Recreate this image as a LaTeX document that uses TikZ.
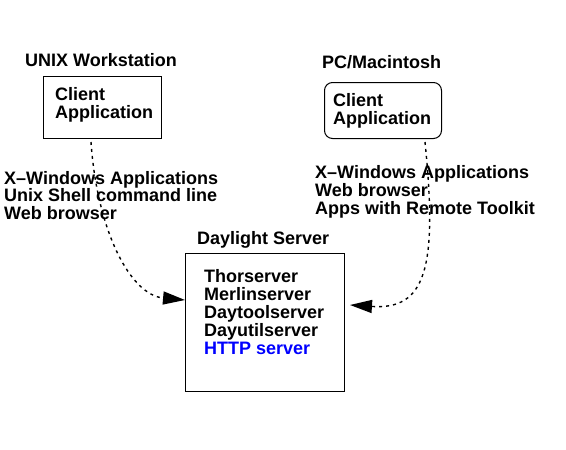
\documentclass[tikz,border=0pt]{standalone}
\usepackage{fontspec}
\setmainfont{Liberation Sans}
\usetikzlibrary{arrows.meta,calc}
\begin{document}
\begin{tikzpicture}[x=1pt,y=-1pt,
  lbl/.style={anchor=base west,inner sep=0pt,font=\fontsize{18}{18}\selectfont\bfseries},
  box/.style={draw,line width=1pt,inner sep=0pt,anchor=north west},
  conn/.style={line width=1.4pt,dash pattern=on 3pt off 4pt,-{Triangle[length=22pt,width=13pt]}}]
\useasboundingbox (0,0) rectangle (566,450);
% left
\node[lbl] (unixlbl) at (25,66) {UNIX Workstation};
\node[box,minimum width=118pt,minimum height=62pt] (unixbox) at (43,76) {};
\node[lbl] (unixc1) at (55,100) {Client};
\node[lbl] (unixc2) at (55,118) {Application};
\node[lbl] (l1) at (4,184) {X{\char"2013}Windows Applications};
\node[lbl] (l2) at (4,201) {Unix Shell command line};
\node[lbl] (l3) at (4,219) {Web browser};
% right
\node[lbl] (pclbl) at (322,68) {PC/Macintosh};
\node[box,rounded corners=8pt,minimum width=117pt,minimum height=56pt] (pcbox) at (324,82) {};
\node[lbl] (pcc1) at (333,106) {Client};
\node[lbl] (pcc2) at (333,124) {Application};
\node[lbl] (r1) at (315,178) {X{\char"2013}Windows Applications};
\node[lbl] (r2) at (315,196) {Web browser};
\node[lbl] (r3) at (315,214) {Apps with Remote Toolkit};
% server
\node[lbl] (srvlbl) at (197,244) {Daylight Server};
\node[box,minimum width=159pt,minimum height=138pt] (srvbox) at (185,253) {};
\node[lbl] (s1) at (204,282) {Thorserver};
\node[lbl] (s2) at (204,300) {Merlinserver};
\node[lbl] (s3) at (204,318) {Daytoolserver};
\node[lbl] (s4) at (204,336) {Dayutilserver};
\node[lbl,text={rgb,255:red,0;green,0;blue,255}] (s5) at (204,354) {HTTP server};
% connectors
\coordinate (la) at ($(unixbox.south west)+(48,3)$);
\coordinate (lb) at ($(srvbox.north west)+(0,47)$);
\coordinate (ra) at ($(pcbox.south west)+(101,3)$);
\coordinate (rb) at ($(srvbox.north east)+(5,52)$);
\draw[conn] (la) .. controls (97,230) and (130,295) .. (lb);
\draw[conn] (ra) .. controls (438,270) and (425,310) .. (rb);
\end{tikzpicture}
\end{document}
